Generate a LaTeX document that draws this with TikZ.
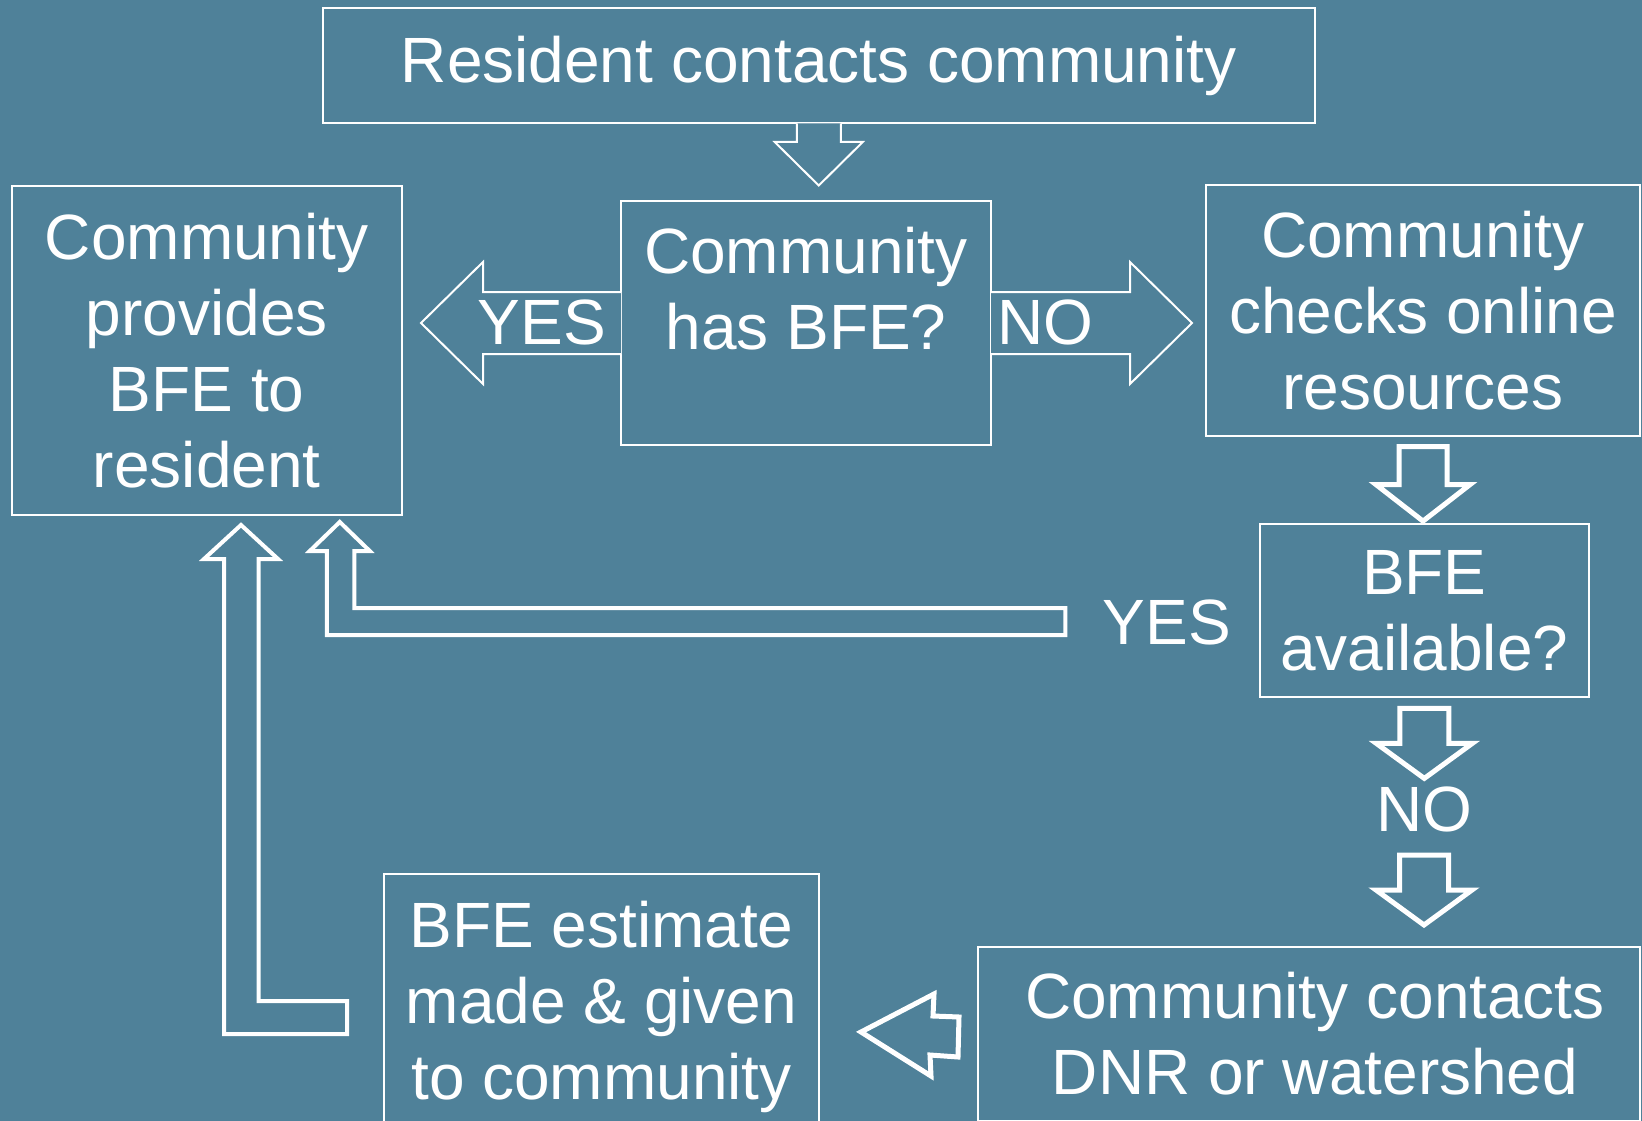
\documentclass[tikz,border=0pt]{standalone}
\usepackage{fontspec}
\setmainfont{Liberation Sans}
\usepackage{xcolor}
\usepackage{tikz}
\usetikzlibrary{
  calc,
  positioning
}
\definecolor{PanelBlue}{RGB}{79, 129, 153}
\tikzset{
    flowbox/.style={draw=white, line width=2pt, inner sep=0pt, align=center, text=white,
        font=\fontsize{64}{76}\selectfont},
    flowtext/.style={inner sep=0pt, align=center, text=white, font=\fontsize{64}{76}\selectfont},
    thinarrow/.style={draw=white, fill=PanelBlue, line width=2pt, line join=miter},
    midarrow/.style={draw=white, fill=PanelBlue, line width=4pt, line join=miter},
    boldarrow/.style={draw=white, fill=PanelBlue, line width=5pt, line join=miter}
}

\begin{document}
\begin{tikzpicture}[x=1pt, y=-1pt]
                \fill[PanelBlue] (0,0) rectangle (1642,1121);
                \useasboundingbox (0,0) rectangle (1642,1121);
                \clip (0,0) rectangle (1642,1121);

                % boxes
                \node[flowbox, minimum width=992.5pt, minimum height=115pt] (resident) at (818.75,66) {Resident contacts community};
                \node[flowbox, minimum width=370pt, minimum height=244pt] (hasbfe) at (806,323) {};
                \node[flowtext] (hasbfetext) at ($(hasbfe.north)+(0,89)$) {Community\\has BFE?};
                \node[flowbox, minimum width=390.5pt, minimum height=329pt] (provides) at (206.75,350.5) {Community\\provides\\BFE to\\resident};
                \node[flowbox, minimum width=434pt, minimum height=250.6pt] (checks) at (1423,310.3) {Community\\checks online\\resources};
                \node[flowbox, minimum width=328.6pt, minimum height=173.8pt] (avail) at (1424.3,610.5) {BFE\\available?};
                \node[flowbox, minimum width=662pt, minimum height=174.6pt] (contacts) at (1309,1034) {};
                \node[flowtext] (contactstext) at ($(contacts.center)+(6,0)$) {Community contacts\\DNR or watershed};
                \node[flowbox, minimum width=435pt, minimum height=265.5pt] (estimate) at (601.5,1006.75) {BFE estimate\\made \& given\\to community};

                \node[flowtext] (yesavail) at (1167,622) {YES};
                \node[flowtext] (noavail) at (1424,809.5) {NO};

                % block arrows
                \path[thinarrow] ($(resident.south)+(-22,-1)$) -- ++(0,18.5) -- ++(-22,0) -- ++(44,43.5) -- ++(44,-43.5) -- ++(-22,0) -- ++(0,-18.5);
                \path[thinarrow] ($(hasbfe.west)+(1,-31)$) -- ++(-138,0) -- ++(0,-30) -- ++(-62,61) -- ++(62,61) -- ++(0,-30) -- ++(138,0);
                \path[thinarrow] ($(hasbfe.east)+(-1,-31)$) -- ++(139,0) -- ++(0,-30) -- ++(62,61) -- ++(-62,61) -- ++(0,-30) -- ++(-139,0);
                \path[boldarrow] ($(checks.south)+(-24,10)$) -- ++(0,38) -- ++(-23,0) -- ++(47,36.5) -- ++(47,-36.5) -- ++(-23,0) -- ++(0,-38) -- cycle;
                \path[boldarrow] ($(avail.south)+(-24.5,10)$) -- ++(0,35) -- ++(-23.5,0) -- ++(48,35) -- ++(48,-35) -- ++(-23.5,0) -- ++(0,-35) -- cycle;
                \path[boldarrow] ($(noavail)+(-24.5,45.5)$) -- ++(0,35) -- ++(-23.5,0) -- ++(48,35) -- ++(48,-35) -- ++(-23.5,0) -- ++(0,-35) -- cycle;
                \path[boldarrow] ($(contacts.west)+(-116,-2)$) -- ++(73,-38) -- ++(-1,22) -- ++(26,1) -- ++(-1,40) -- ++(-28,-2) -- ++(1,21) -- cycle;
                \path[midarrow] ($(yesavail.west)+(-37.5,-14)$) -- ++(-711,0) -- ++(0,-57) -- ++(15.5,0) -- ++(-30,-29) -- ++(-30,29) -- ++(17,0) -- ++(0,84) -- ++(738.5,0) -- cycle;
                \path[midarrow] ($(estimate.west)+(-36,-5.75)$) -- ++(-88.5,0) -- ++(0,-442) -- ++(19.5,0) -- ++(-37,-34) -- ++(-37,34) -- ++(20,0) -- ++(0,475) -- ++(123,0) -- cycle;

                \node[flowtext] (yesleft) at (542,322) {YES};
                \node[flowtext] (noright) at (1045,322) {NO};
            \end{tikzpicture}
\end{document}
